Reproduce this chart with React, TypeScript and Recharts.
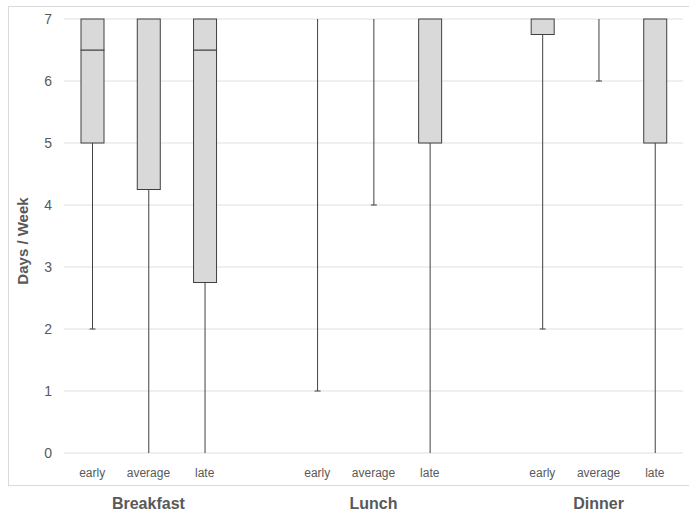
import { ComposedChart, Bar, XAxis, YAxis, CartesianGrid } from "recharts";

const groups = ["Breakfast", "Lunch", "Dinner"];
const timings = ["early", "average", "late"];
// box-plot statistics, one entry per group/timing (Breakfast x3, Lunch x3, Dinner x3)
const mins = [2, 0, 0, 1, 4, 0, 2, 6, 0];
const q1s = [5, 4.25, 2.75, 7, 7, 5, 6.75, 7, 5];
const medians = [6.5, 7, 6.5, 7, 7, 7, 7, 7, 7];
const q3s = [7, 7, 7, 7, 7, 7, 7, 7, 7];
const maxs = [7, 7, 7, 7, 7, 7, 7, 7, 7];
const yTicks = [0, 1, 2, 3, 4, 5, 6, 7];

const INK = "#404040";
const BOX_FILL = "#d9d9d9";
const TEXT = "#595959";
const FONT = "'Liberation Sans', Arial, sans-serif";

type Row = {
  key: string;
  label: string;
  group: string;
  min?: number;
  base?: number;
  lowWhisker?: number;
  lowBox?: number;
  highBox?: number;
  highWhisker?: number;
};

const rows: Row[] = [];
groups.forEach((g, gi) => {
  if (gi > 0) rows.push({ key: `gap${gi}`, label: "", group: "" });
  timings.forEach((t, ti) => {
    const i = gi * 3 + ti;
    rows.push({
      key: `${g}-${t}`,
      label: t,
      group: ti === 1 ? g : "",
      min: mins[i],
      base: mins[i],
      lowWhisker: q1s[i] - mins[i],
      lowBox: medians[i] - q1s[i],
      highBox: q3s[i] - medians[i],
      highWhisker: maxs[i] - q3s[i],
    });
  });
});

const rowByKey: Record<string, Row> = {};
rows.forEach((r) => (rowByKey[r.key] = r));

const LowWhisker = (p: any) => {
  const { x, y, width, height, payload } = p;
  if (!height || height <= 0) return <g />;
  const cx = x + width / 2;
  const bottom = y + height;
  return (
    <g>
      <line x1={cx} x2={cx} y1={y} y2={bottom} stroke={INK} strokeWidth={1} />
      {payload.min > 0 && (
        <line x1={cx - 3} x2={cx + 3} y1={bottom} y2={bottom} stroke={INK} strokeWidth={1} />
      )}
    </g>
  );
};

const HighWhisker = (p: any) => {
  const { x, y, width, height } = p;
  if (!height || height <= 0) return <g />;
  const cx = x + width / 2;
  return (
    <g>
      <line x1={cx} x2={cx} y1={y} y2={y + height} stroke={INK} strokeWidth={1} />
      <line x1={cx - 3} x2={cx + 3} y1={y} y2={y} stroke={INK} strokeWidth={1} />
    </g>
  );
};

const BoxPart = (p: any) => {
  const { x, y, width, height } = p;
  if (!height || height <= 0) return <g />;
  return <rect x={x} y={y} width={width} height={height} fill={BOX_FILL} stroke={INK} strokeWidth={1} />;
};

const CategoryTick = (p: any) => {
  const { x, y, payload } = p;
  const row = rowByKey[payload.value];
  if (!row) return <g />;
  return (
    <g>
      <text x={x} y={y + 24} textAnchor="middle" fill={TEXT} fontSize={12} fontFamily={FONT}>
        {row.label}
      </text>
      {row.group && (
        <text x={x} y={y + 56} textAnchor="middle" fill={TEXT} fontSize={16} fontWeight="bold" fontFamily={FONT}>
          {row.group}
        </text>
      )}
    </g>
  );
};

const YTitle = (p: any) => {
  const vb = p.viewBox || { x: 0, y: 0, width: 0, height: 0 };
  const cx = 22;
  const cy = vb.y + vb.height / 2 + 5;
  return (
    <text
      x={cx}
      y={cy}
      transform={`rotate(-90, ${cx}, ${cy})`}
      textAnchor="middle"
      dominantBaseline="central"
      fill={TEXT}
      fontSize={15}
      fontWeight="bold"
      fontFamily={FONT}
    >
      Days / Week
    </text>
  );
};

export default function App() {
  return (
    <div style={{ position: "absolute", left: 0, top: 0, width: 689, height: 516, background: "#fff" }}>
      <div
        style={{
          position: "absolute",
          left: 8,
          top: 6,
          width: 700,
          height: 480,
          border: "1px solid #d9d9d9",
          boxSizing: "border-box",
        }}
      />
      <div style={{ position: "absolute", left: 0, top: 0 }}>
        <ComposedChart
          width={689}
          height={516}
          data={rows}
          margin={{ top: 19, right: 6, left: 0, bottom: 0 }}
        >
          <CartesianGrid vertical={false} stroke="#e0e0e0" />
          <XAxis
            dataKey="key"
            interval={0}
            axisLine={false}
            tickLine={false}
            tickSize={0}
            tickMargin={0}
            height={63}
            tick={<CategoryTick />}
          />
          <YAxis
            type="number"
            domain={[0, 7]}
            ticks={yTicks}
            width={64}
            axisLine={false}
            tickLine={false}
            tickSize={0}
            tickMargin={12}
            tick={{ fill: TEXT, fontSize: 14, fontFamily: FONT }}
            label={{ content: <YTitle /> }}
          />
          <Bar dataKey="base" stackId="box" fill="none" barSize={23} isAnimationActive={false} />
          <Bar dataKey="lowWhisker" stackId="box" barSize={23} shape={<LowWhisker />} isAnimationActive={false} />
          <Bar dataKey="lowBox" stackId="box" barSize={23} shape={<BoxPart />} isAnimationActive={false} />
          <Bar dataKey="highBox" stackId="box" barSize={23} shape={<BoxPart />} isAnimationActive={false} />
          <Bar dataKey="highWhisker" stackId="box" barSize={23} shape={<HighWhisker />} isAnimationActive={false} />
        </ComposedChart>
      </div>
    </div>
  );
}
